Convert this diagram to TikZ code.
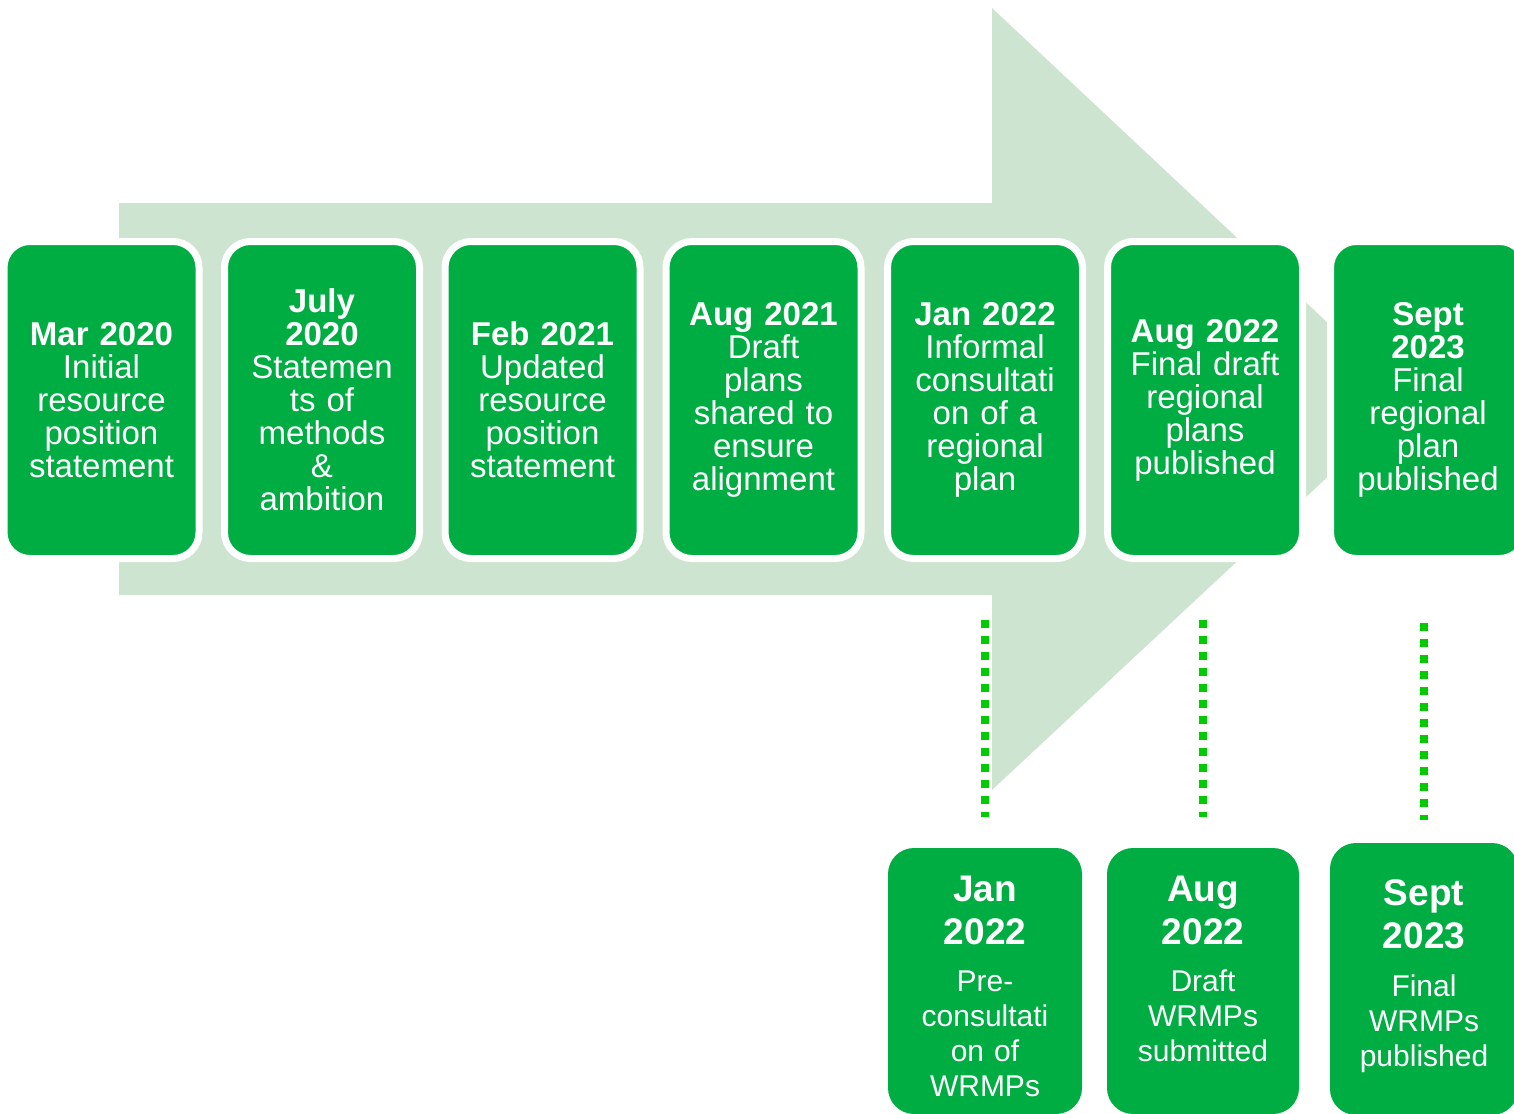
\documentclass[tikz,border=0pt]{standalone}
\usepackage{fontspec}
\setmainfont{Liberation Sans}
\usetikzlibrary{positioning}

\definecolor{boxgreen}{RGB}{0,173,67}
\definecolor{shaftgreen}{RGB}{205,228,208}
\definecolor{dotgreen}{RGB}{0,204,0}

\tikzset{
  stagebox/.style={fill=boxgreen, draw=white, line width=7pt, rounded corners=26pt,
    minimum width=195pt, minimum height=317pt, inner sep=0pt,
    text=white, text width=186pt, align=center,
    font=\fontsize{33}{33}\selectfont},
  wrmpbox/.style={fill=boxgreen, rounded corners=26pt, inner sep=0pt},
  wrmptext/.style={text=white, text width=186pt, align=center, inner sep=0pt,
    anchor=north, font=\fontsize{30}{35}\selectfont},
  milestone/.style={dotgreen, line width=8pt, dash pattern=on 8pt off 8pt}
}

\begin{document}
\begin{tikzpicture}[x=1pt, y=-1pt]
    \useasboundingbox (0,0) rectangle (1514,1113);
    % big background arrow
    \fill[shaftgreen] (119,203) -- (992,203) -- (992,8) -- (1410,400)
      -- (992,790) -- (992,595) -- (119,595) -- cycle;

    \node[stagebox] (t1) at (101.5,400) {\textbf{Mar 2020}\\Initial\\resource\\position\\statement};
    \node[stagebox] (t2) at (322,400) {\textbf{July}\\\textbf{2020}\\Statemen\\ts of\\methods\\\&\\ambition};
    \node[stagebox] (t3) at (542.5,400) {\textbf{Feb 2021}\\Updated\\resource\\position\\statement};
    \node[stagebox] (t4) at (763.5,400) {\textbf{Aug 2021}\\Draft\\plans\\shared to\\ensure\\alignment};
    \node[stagebox] (t5) at (985,400) {\textbf{Jan 2022}\\Informal\\consultati\\on of a\\regional\\plan};
    \node[stagebox] (t6) at (1205,400) {\textbf{Aug 2022}\\Final draft\\regional\\plans\\published};
    \node[stagebox] (t7) at (1428,400) {\textbf{Sept}\\\textbf{2023}\\Final\\regional\\plan\\published};

    % WRMP milestones
    \node[wrmpbox, minimum width=194pt, minimum height=266pt] (w1) at (985,981) {};
    \node[wrmpbox, minimum width=192pt, minimum height=266pt] (w2) at (1203,981) {};
    \node[wrmpbox, minimum width=188pt, minimum height=272pt] (w3) at (1424,979) {};
    \node[wrmptext, below=28pt of w1.north] (w1txt)
      {{\fontsize{37}{35}\selectfont\bfseries Jan}\\[8pt]{\fontsize{37}{35}\selectfont\bfseries 2022}\\[12.5pt]Pre-\\consultati\\on of\\WRMPs};
    \node[wrmptext, below=28pt of w2.north] (w2txt)
      {{\fontsize{37}{35}\selectfont\bfseries Aug}\\[8pt]{\fontsize{37}{35}\selectfont\bfseries 2022}\\[12.5pt]Draft\\WRMPs\\submitted};
    \node[wrmptext, below=37pt of w3.north] (w3txt)
      {{\fontsize{37}{35}\selectfont\bfseries Sept}\\[8pt]{\fontsize{37}{35}\selectfont\bfseries 2023}\\[12.5pt]Final\\WRMPs\\published};

    \draw[milestone, shorten <=58pt, shorten >=31pt] (t5.south) -- (t5.south |- w1.north);
    \draw[milestone, shorten <=58pt, shorten >=31pt] (t6.south -| w2.north) -- (w2.north);
    \draw[milestone, shorten <=61pt, shorten >=23pt] (t7.south -| w3.north) -- (w3.north);
\end{tikzpicture}
\end{document}
